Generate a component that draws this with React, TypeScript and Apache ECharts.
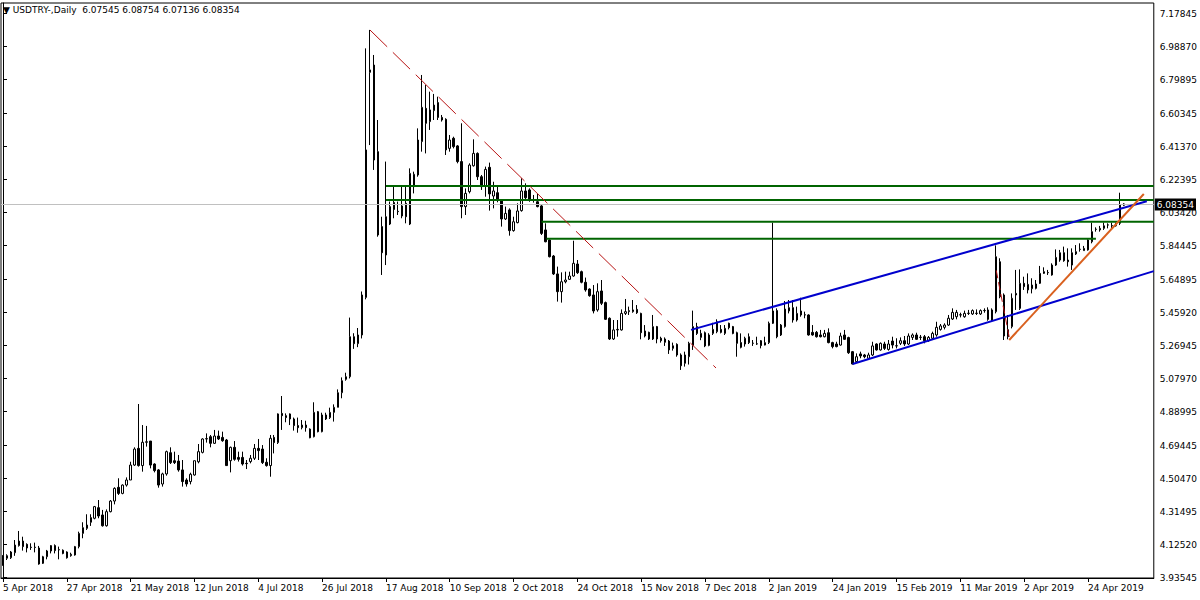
import React, { useEffect, useRef } from 'react';
import * as echarts from 'echarts';

// ---------- data ----------
const OPEN = [
  4.007, 4.046, 4.049, 4.078, 4.119, 4.145, 4.126, 4.110, 4.110, 4.105,
  4.017, 4.055, 4.088, 4.119, 4.094, 4.092, 4.082, 4.061, 4.065, 4.113,
  4.189, 4.218, 4.253, 4.276, 4.337, 4.295, 4.233, 4.314, 4.375, 4.454,
  4.419, 4.467, 4.496, 4.582, 4.678, 4.579, 4.713, 4.720, 4.588, 4.554,
  4.473, 4.531, 4.653, 4.607, 4.605, 4.554, 4.496, 4.487, 4.525, 4.601,
  4.655, 4.732, 4.745, 4.707, 4.749, 4.741, 4.726, 4.607, 4.684, 4.626,
  4.626, 4.592, 4.602, 4.621, 4.678, 4.674, 4.598, 4.579, 4.741, 4.711,
  4.879, 4.866, 4.876, 4.847, 4.809, 4.797, 4.812, 4.789, 4.745, 4.889,
  4.774, 4.870, 4.855, 4.885, 4.914, 4.998, 5.075, 5.090, 5.320, 5.280,
  5.330, 5.546, 6.840, 6.882, 6.384, 5.953, 5.790, 5.968, 6.091, 6.041,
  6.014, 6.087, 5.968, 6.183, 6.250, 6.442, 6.633, 6.557, 6.620, 6.666,
  6.581, 6.570, 6.403, 6.461, 6.417, 6.327, 6.068, 6.154, 6.303, 6.374,
  6.240, 6.187, 6.294, 6.129, 6.148, 6.106, 5.997, 6.049, 5.930, 5.976,
  6.045, 6.158, 6.164, 6.106, 6.096, 6.072, 5.934, 5.876, 5.784, 5.681,
  5.579, 5.636, 5.650, 5.669, 5.738, 5.694, 5.633, 5.594, 5.560, 5.474,
  5.583, 5.516, 5.426, 5.307, 5.359, 5.359, 5.454, 5.464, 5.464, 5.477,
  5.454, 5.353, 5.345, 5.307, 5.378, 5.311, 5.307, 5.295, 5.253, 5.276,
  5.215, 5.167, 5.205, 5.270, 5.378, 5.316, 5.343, 5.270, 5.339, 5.349,
  5.362, 5.339, 5.397, 5.378, 5.343, 5.286, 5.278, 5.320, 5.283, 5.279,
  5.297, 5.272, 5.286, 5.397, 5.470, 5.330, 5.378, 5.468, 5.487, 5.416,
  5.468, 5.446, 5.445, 5.345, 5.345, 5.330, 5.320, 5.343, 5.286, 5.278,
  5.272, 5.330, 5.315, 5.234, 5.177, 5.221, 5.215, 5.196, 5.215, 5.278,
  5.244, 5.278, 5.247, 5.295, 5.268, 5.282, 5.297, 5.278, 5.316, 5.330,
  5.317, 5.320, 5.297, 5.311, 5.330, 5.362, 5.374, 5.387, 5.422, 5.435,
  5.446, 5.435, 5.455, 5.451, 5.455, 5.451, 5.471, 5.474, 5.416, 5.464,
  5.751, 5.560, 5.360, 5.378, 5.569, 5.483, 5.627, 5.589, 5.596, 5.598,
  5.627, 5.684, 5.689, 5.675, 5.732, 5.761, 5.803, 5.761, 5.732, 5.796,
  5.823, 5.815, 5.819, 5.866, 5.938, 5.934, 5.943, 5.963, 5.959, 5.959,
  5.972, 6.07545
];
const CLOSE = [
  4.061, 4.061, 4.082, 4.122, 4.145, 4.113, 4.105, 4.108, 4.108, 4.013,
  4.055, 4.088, 4.119, 4.090, 4.096, 4.074, 4.049, 4.069, 4.113, 4.189,
  4.222, 4.237, 4.280, 4.343, 4.289, 4.233, 4.314, 4.375, 4.448, 4.419,
  4.467, 4.496, 4.582, 4.674, 4.579, 4.713, 4.716, 4.582, 4.550, 4.467,
  4.531, 4.659, 4.596, 4.596, 4.554, 4.487, 4.473, 4.529, 4.607, 4.659,
  4.732, 4.734, 4.707, 4.749, 4.732, 4.722, 4.579, 4.684, 4.615, 4.615,
  4.588, 4.590, 4.621, 4.678, 4.665, 4.596, 4.579, 4.736, 4.711, 4.876,
  4.866, 4.855, 4.847, 4.809, 4.797, 4.812, 4.797, 4.739, 4.885, 4.774,
  4.870, 4.847, 4.885, 4.914, 4.998, 5.067, 5.090, 5.320, 5.280, 5.330,
  5.560, 6.394, 6.854, 6.336, 5.905, 5.803, 6.010, 6.068, 6.052, 6.039,
  6.072, 6.010, 6.259, 6.254, 6.451, 6.639, 6.547, 6.624, 6.652, 6.581,
  6.566, 6.394, 6.451, 6.413, 6.327, 6.068, 6.144, 6.307, 6.374, 6.240,
  6.183, 6.282, 6.141, 6.158, 6.106, 5.997, 6.029, 5.930, 5.981, 6.043,
  6.158, 6.119, 6.106, 6.104, 6.068, 5.914, 5.866, 5.780, 5.681, 5.579,
  5.636, 5.646, 5.669, 5.742, 5.688, 5.633, 5.589, 5.556, 5.468, 5.579,
  5.512, 5.420, 5.307, 5.359, 5.362, 5.454, 5.464, 5.470, 5.474, 5.458,
  5.343, 5.324, 5.307, 5.378, 5.307, 5.297, 5.288, 5.244, 5.268, 5.215,
  5.153, 5.215, 5.282, 5.378, 5.339, 5.339, 5.267, 5.330, 5.362, 5.406,
  5.345, 5.368, 5.372, 5.339, 5.282, 5.259, 5.311, 5.286, 5.282, 5.278,
  5.269, 5.286, 5.397, 5.468, 5.320, 5.387, 5.479, 5.487, 5.416, 5.454,
  5.445, 5.445, 5.330, 5.330, 5.320, 5.320, 5.339, 5.286, 5.263, 5.263,
  5.324, 5.305, 5.228, 5.163, 5.205, 5.209, 5.205, 5.215, 5.267, 5.244,
  5.282, 5.253, 5.278, 5.272, 5.267, 5.297, 5.278, 5.324, 5.330, 5.305,
  5.316, 5.297, 5.316, 5.339, 5.374, 5.382, 5.387, 5.426, 5.460, 5.460,
  5.445, 5.454, 5.454, 5.470, 5.454, 5.470, 5.470, 5.420, 5.474, 5.780,
  5.550, 5.324, 5.320, 5.541, 5.560, 5.627, 5.608, 5.621, 5.617, 5.623,
  5.684, 5.694, 5.688, 5.732, 5.776, 5.803, 5.757, 5.751, 5.803, 5.809,
  5.822, 5.828, 5.876, 5.924, 5.937, 5.943, 5.958, 5.962, 5.958, 5.958,
  6.077, 6.08354
];
const LOW = [
  4.003, 4.036, 4.042, 4.060, 4.113, 4.090, 4.080, 4.094, 4.080, 4.009,
  4.013, 4.040, 4.074, 4.074, 4.040, 4.069, 4.044, 4.055, 4.061, 4.103,
  4.161, 4.209, 4.232, 4.270, 4.276, 4.228, 4.228, 4.310, 4.356, 4.410,
  4.414, 4.458, 4.496, 4.577, 4.573, 4.544, 4.688, 4.563, 4.540, 4.452,
  4.458, 4.521, 4.588, 4.588, 4.544, 4.458, 4.458, 4.471, 4.521, 4.592,
  4.649, 4.711, 4.684, 4.703, 4.726, 4.716, 4.577, 4.540, 4.607, 4.602,
  4.579, 4.559, 4.592, 4.611, 4.611, 4.588, 4.573, 4.515, 4.649, 4.703,
  4.784, 4.828, 4.812, 4.780, 4.768, 4.787, 4.774, 4.736, 4.741, 4.770,
  4.770, 4.841, 4.847, 4.832, 4.914, 4.966, 5.067, 5.080, 5.250, 5.260,
  5.310, 5.535, 6.422, 6.279, 5.895, 5.675, 5.732, 5.962, 6.001, 6.020,
  6.001, 5.972, 5.962, 6.144, 6.240, 6.384, 6.374, 6.509, 6.566, 6.566,
  6.557, 6.365, 6.384, 6.403, 6.317, 6.001, 6.020, 6.144, 6.298, 6.221,
  6.164, 6.125, 6.045, 6.058, 6.093, 5.953, 5.991, 5.901, 5.924, 5.972,
  6.039, 6.102, 6.096, 6.091, 6.064, 5.905, 5.863, 5.776, 5.675, 5.522,
  5.516, 5.627, 5.646, 5.665, 5.681, 5.627, 5.579, 5.550, 5.454, 5.464,
  5.502, 5.416, 5.301, 5.301, 5.320, 5.355, 5.445, 5.445, 5.458, 5.451,
  5.305, 5.316, 5.301, 5.301, 5.282, 5.286, 5.267, 5.221, 5.240, 5.205,
  5.129, 5.148, 5.160, 5.244, 5.330, 5.300, 5.260, 5.265, 5.330, 5.340,
  5.339, 5.330, 5.362, 5.334, 5.205, 5.253, 5.263, 5.278, 5.267, 5.273,
  5.253, 5.270, 5.278, 5.393, 5.311, 5.324, 5.372, 5.454, 5.401, 5.407,
  5.435, 5.426, 5.326, 5.326, 5.315, 5.316, 5.316, 5.282, 5.253, 5.259,
  5.269, 5.301, 5.221, 5.161, 5.171, 5.196, 5.196, 5.190, 5.209, 5.240,
  5.240, 5.244, 5.240, 5.253, 5.253, 5.272, 5.267, 5.272, 5.301, 5.301,
  5.301, 5.282, 5.291, 5.305, 5.320, 5.355, 5.362, 5.382, 5.416, 5.420,
  5.431, 5.429, 5.445, 5.445, 5.445, 5.445, 5.458, 5.412, 5.406, 5.454,
  5.541, 5.301, 5.305, 5.368, 5.474, 5.474, 5.589, 5.569, 5.569, 5.592,
  5.623, 5.681, 5.675, 5.671, 5.727, 5.751, 5.751, 5.723, 5.704, 5.790,
  5.809, 5.815, 5.815, 5.857, 5.924, 5.924, 5.934, 5.943, 5.943, 5.953,
  5.962, 6.07136
];
const HIGH = [
  4.065, 4.069, 4.088, 4.151, 4.203, 4.170, 4.132, 4.132, 4.136, 4.117,
  4.060, 4.094, 4.122, 4.126, 4.113, 4.097, 4.086, 4.078, 4.117, 4.199,
  4.253, 4.299, 4.299, 4.347, 4.381, 4.324, 4.327, 4.381, 4.454, 4.506,
  4.471, 4.511, 4.601, 4.684, 4.933, 4.812, 4.807, 4.720, 4.592, 4.559,
  4.538, 4.665, 4.684, 4.659, 4.640, 4.611, 4.506, 4.538, 4.607, 4.703,
  4.736, 4.764, 4.755, 4.784, 4.780, 4.774, 4.732, 4.688, 4.720, 4.659,
  4.659, 4.611, 4.640, 4.703, 4.732, 4.697, 4.621, 4.755, 4.755, 4.879,
  4.979, 4.879, 4.879, 4.855, 4.855, 4.841, 4.837, 4.793, 4.943, 4.893,
  4.883, 4.883, 4.912, 4.931, 5.017, 5.086, 5.113, 5.430, 5.340, 5.370,
  5.580, 6.978, 7.084, 6.940, 6.566, 6.010, 6.327, 6.097, 6.183, 6.097,
  6.183, 6.183, 6.288, 6.269, 6.518, 6.825, 6.767, 6.729, 6.716, 6.700,
  6.595, 6.576, 6.480, 6.470, 6.422, 6.547, 6.173, 6.317, 6.455, 6.380,
  6.250, 6.298, 6.321, 6.211, 6.192, 6.110, 6.068, 6.058, 6.010, 6.087,
  6.231, 6.202, 6.173, 6.135, 6.141, 6.077, 5.972, 5.880, 5.790, 5.723,
  5.690, 5.694, 5.694, 5.872, 5.761, 5.700, 5.660, 5.598, 5.617, 5.627,
  5.646, 5.522, 5.431, 5.416, 5.416, 5.477, 5.537, 5.493, 5.531, 5.502,
  5.458, 5.387, 5.349, 5.445, 5.382, 5.320, 5.316, 5.301, 5.286, 5.282,
  5.224, 5.234, 5.291, 5.470, 5.400, 5.360, 5.350, 5.340, 5.400, 5.420,
  5.387, 5.387, 5.401, 5.382, 5.349, 5.339, 5.320, 5.339, 5.301, 5.320,
  5.301, 5.320, 5.407, 5.976, 5.483, 5.393, 5.525, 5.531, 5.531, 5.493,
  5.544, 5.464, 5.449, 5.387, 5.353, 5.359, 5.359, 5.368, 5.291, 5.291,
  5.343, 5.359, 5.320, 5.238, 5.224, 5.234, 5.221, 5.228, 5.291, 5.282,
  5.287, 5.291, 5.301, 5.320, 5.311, 5.316, 5.324, 5.339, 5.339, 5.343,
  5.330, 5.330, 5.324, 5.349, 5.406, 5.393, 5.397, 5.445, 5.483, 5.474,
  5.458, 5.470, 5.474, 5.477, 5.477, 5.477, 5.483, 5.489, 5.483, 5.845,
  5.771, 5.569, 5.445, 5.569, 5.704, 5.707, 5.665, 5.684, 5.656, 5.646,
  5.727, 5.719, 5.704, 5.742, 5.822, 5.819, 5.838, 5.828, 5.828, 5.847,
  5.857, 5.842, 5.880, 5.976, 5.949, 5.957, 5.976, 5.972, 5.976, 5.976,
  6.148, 6.08754
];

// price-axis tick labels as printed by the terminal
const Y_TICKS = [
  7.17845, 6.9887, 6.79895, 6.60345, 6.4137, 6.22395, 6.0342, 5.84445, 5.64895,
  5.4592, 5.26945, 5.0797, 4.88995, 4.69445, 4.5047, 4.31495, 4.1252, 3.93545
];
const Y_MIN = 3.932575;
const Y_MAX = 7.238825;

const SYMBOL = 'USDTRY-,Daily';
const HEADER_OHLC = ['6.07545', '6.08754', '6.07136', '6.08354'];
const BID = 6.08354;

// horizontal support / resistance levels: [fromIndex, toIndex, price]
const GREEN_LEVELS = [
  [96, 288.5, 6.1866],
  [96, 288.5, 6.1061],
  [135, 288.5, 5.9813],
  [136.25, 274, 5.8835]
];
// trend lines: [[index, price], [index, price]]
const RED_TREND = [[92, 7.0836], [178.75, 5.1401]];
const RED_TREND_2 = [[249, 5.7013], [252.25, 5.3185]];
const BLUE_UPPER = [[172.5, 5.3594], [286.75, 6.0985]];
const BLUE_LOWER = [[213, 5.1631], [288.5, 5.6973]];
const ORANGE_TREND = [[252.25, 5.301], [286, 6.1406]];

const SLOTS = 289;
const MONTHS = ['Jan', 'Feb', 'Mar', 'Apr', 'May', 'Jun', 'Jul', 'Aug', 'Sep', 'Oct', 'Nov', 'Dec'];
const HOLIDAYS = ['2018-12-25', '2019-01-01'];

function buildDates(n: number): string[] {
  const out: string[] = [];
  const d = new Date(Date.UTC(2018, 3, 5));
  while (out.length < n) {
    const wd = d.getUTCDay();
    const iso = d.toISOString().slice(0, 10);
    if (wd !== 0 && wd !== 6 && HOLIDAYS.indexOf(iso) < 0) {
      out.push(d.getUTCDate() + ' ' + MONTHS[d.getUTCMonth()] + ' ' + d.getUTCFullYear());
    }
    d.setUTCDate(d.getUTCDate() + 1);
  }
  return out;
}

const FONT = "'DejaVu Sans', 'Liberation Sans', sans-serif";

export default function App() {
  const ref = useRef<HTMLDivElement>(null);

  useEffect(() => {
    document.body.style.margin = '0';
    if (!ref.current) return;
    const chart = echarts.init(ref.current, undefined, { renderer: 'svg' });
    const dates = buildDates(SLOTS);
    const n = OPEN.length;
    const candles = OPEN.map((o, i) => [o, CLOSE[i], LOW[i], HIGH[i]]);
    const showTick = (i: number) => i % 16 === 0 && i < n;

    const lineSeries = (data: number[][], color: string, width: number, type: any = 'solid') => ({
      type: 'line',
      xAxisIndex: 1,
      yAxisIndex: 0,
      data,
      symbol: 'none',
      silent: true,
      clip: true,
      z: 5,
      lineStyle: { color, width, type }
    });

    const series: any[] = [
      {
        type: 'candlestick',
        xAxisIndex: 0,
        yAxisIndex: 0,
        data: candles,
        barWidth: 2,
        z: 3,
        itemStyle: {
          color: '#ffffff',
          color0: '#000000',
          borderColor: '#000000',
          borderColor0: '#000000',
          borderColorDoji: '#000000',
          borderWidth: 1
        },
        markLine: {
          silent: true,
          symbol: ['none', 'none'],
          animation: false,
          data: [{ yAxis: BID }],
          lineStyle: { color: '#c0c0c0', width: 1, type: 'solid' },
          label: {
            show: true,
            position: 'end',
            formatter: BID.toFixed(5),
            color: '#ffffff',
            backgroundColor: '#000000',
            padding: [2, 2, 1, 2],
            distance: 1,
            fontSize: 9,
            fontFamily: FONT
          }
        }
      }
    ];
    GREEN_LEVELS.forEach(([a, b, p]) => {
      series.push(lineSeries([[a, p], [b, p]], '#006400', 2));
    });
    series.push(lineSeries(RED_TREND, '#b81414', 1, [24, 8]));
    series.push(lineSeries(RED_TREND_2, '#b81414', 1, [8, 4]));
    series.push(lineSeries(BLUE_UPPER, '#0000cd', 2));
    series.push(lineSeries(BLUE_LOWER, '#0000cd', 2));
    series.push(lineSeries(ORANGE_TREND, '#d9601e', 2));

    chart.setOption({
      animation: false,
      backgroundColor: '#ffffff',
      textStyle: { fontFamily: FONT },
      title: {
        text: '\u25BC ' + SYMBOL + '\u00a0\u00a0' + HEADER_OHLC.join(' '),
        left: 3,
        top: 5,
        padding: 0,
        textStyle: { fontSize: 9, fontWeight: 'normal', color: '#000', fontFamily: FONT }
      },
      grid: {
        left: 1,
        right: 45,
        top: 3,
        bottom: 22,
        show: true,
        borderColor: '#000',
        borderWidth: 1,
        containLabel: false
      },
      xAxis: [
        {
          type: 'category',
          data: dates,
          boundaryGap: true,
          axisLine: { show: true, lineStyle: { color: '#000', width: 1 } },
          axisTick: { show: true, alignWithLabel: true, interval: (i: number) => showTick(i), length: 4, lineStyle: { color: '#000' } },
          axisLabel: {
            interval: (i: number) => showTick(i),
            formatter: (v: string, i: number) => (i < n ? v : ''),
            align: 'left',
            color: '#000',
            fontSize: 9,
            margin: 5,
            fontFamily: FONT
          },
          splitLine: { show: false }
        },
        { type: 'value', min: -0.5, max: SLOTS - 0.5, show: false }
      ],
      yAxis: {
        type: 'value',
        position: 'right',
        min: Y_MIN,
        max: Y_MAX,
        axisLine: { show: true, lineStyle: { color: '#000', width: 1 } },
        axisTick: { show: true, customValues: Y_TICKS, length: 4, lineStyle: { color: '#000' } },
        axisLabel: {
          customValues: Y_TICKS,
          formatter: (v: number) => v.toFixed(5),
          color: '#000',
          fontSize: 9,
          margin: 6,
          fontFamily: FONT
        },
        splitLine: { show: false }
      },
      series
    });
    return () => chart.dispose();
  }, []);

  return <div ref={ref} style={{ width: 1200, height: 600 }} />;
}
